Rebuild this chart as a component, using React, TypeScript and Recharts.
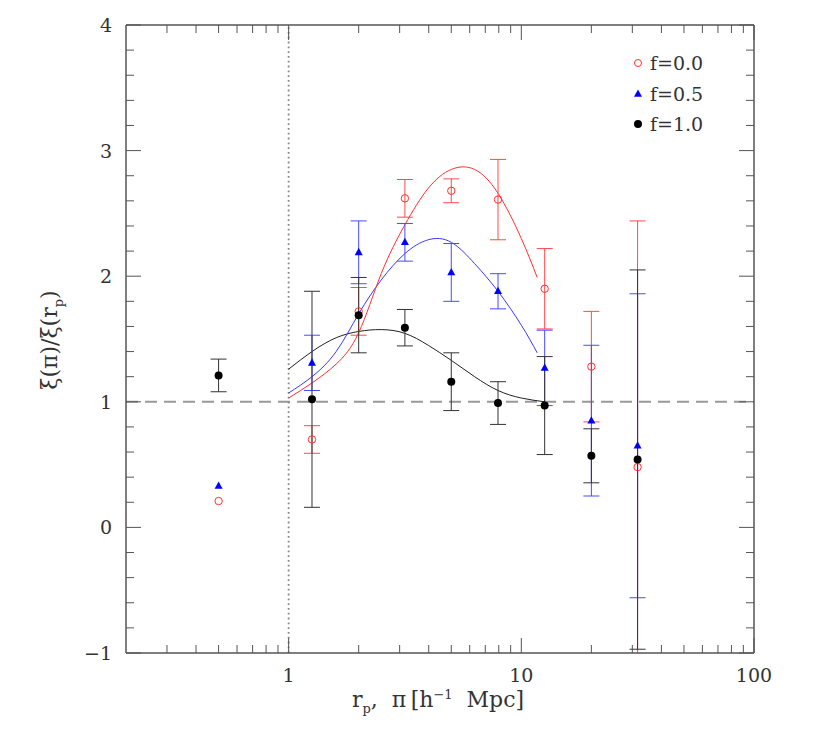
import React from 'react'
import { ComposedChart, Line, Scatter, ErrorBar, XAxis, YAxis, ReferenceLine } from 'recharts'

// bin centres (h^-1 Mpc), same for all three samples
const R_BINS = [0.5, 1.26, 2.0, 3.16, 5.0, 7.94, 12.6, 20.0, 31.6]

// f = 0.0  (open red circles)
const F00_Y = [0.21, 0.70, 1.72, 2.62, 2.68, 2.61, 1.90, 1.28, 0.48]
const F00_ERR = [null, 0.11, 0.19, 0.15, 0.095, 0.32, 0.32, 0.44, 1.96]

// f = 0.5  (blue triangles)
const F05_Y = [0.33, 1.31, 2.19, 2.27, 2.03, 1.88, 1.27, 0.85, 0.65]
const F05_ERR = [null, 0.22, 0.25, 0.15, 0.23, 0.14, 0.30, 0.60, 1.21]

// f = 1.0  (black dots)
const F10_Y = [1.21, 1.02, 1.69, 1.59, 1.16, 0.99, 0.97, 0.57, 0.54]
const F10_ERR = [0.13, 0.86, 0.30, 0.145, 0.23, 0.17, 0.39, 0.215, 1.51]

// model curves
const MODEL_X = [1.0, 1.26, 1.6, 2.0, 2.5, 3.16, 3.98, 5.0, 6.3, 7.94, 10.0, 11.7]
const MODEL_F00 = [1.03, 1.15, 1.30, 1.55, 2.02, 2.41, 2.70, 2.85, 2.85, 2.66, 2.30, 1.99]
const MODEL_F05 = [1.07, 1.20, 1.40, 1.70, 1.97, 2.18, 2.29, 2.27, 2.10, 1.88, 1.61, 1.39]
const MODEL_F10_X = [1.0, 1.26, 1.6, 2.0, 2.5, 3.16, 3.98, 5.0, 6.3, 7.94, 10.0, 12.6]
const MODEL_F10 = [1.26, 1.40, 1.51, 1.56, 1.575, 1.545, 1.45, 1.33, 1.20, 1.09, 1.03, 1.0]

// axis ticks
const X_MAJOR = [1, 10, 100]
const X_MINOR = [0.3, 0.4, 0.5, 0.6, 0.7, 0.8, 0.9, 2, 3, 4, 5, 6, 7, 8, 9, 20, 30, 40, 50, 60, 70, 80, 90]
const Y_MAJOR = [-1, 0, 1, 2, 3, 4]
const Y_MINOR = [-0.8, -0.6, -0.4, -0.2, 0.2, 0.4, 0.6, 0.8, 1.2, 1.4, 1.6, 1.8, 2.2, 2.4, 2.6, 2.8, 3.2, 3.4, 3.6, 3.8]

const RED = '#ff3030'
const BLUE = '#0000ff'
const AXIS = '#555'
const FONT = 'DejaVu Serif'

// plot frame inside the chart svg
const W = 800
const H = 715
const M = { top: 17, right: 54, bottom: 70, left: 118 }

const toPoints = (xs: number[], ys: number[], es?: (number | null)[]) =>
  xs.map((x, i) => ({ x, y: ys[i], e: es ? es[i] : null }))

const f00 = toPoints(R_BINS, F00_Y, F00_ERR)
const f05 = toPoints(R_BINS, F05_Y, F05_ERR)
const f10 = toPoints(R_BINS, F10_Y, F10_ERR)
const m00 = toPoints(MODEL_X, MODEL_F00)
const m05 = toPoints(MODEL_X, MODEL_F05)
const m10 = toPoints(MODEL_F10_X, MODEL_F10)

const fmt = (v: number) => (v < 0 ? `\u2212${Math.abs(v)}` : `${v}`)

// inward tick marks, labels only on the bottom/left majors
const AxisTick = (props: any) => {
  const { x, y, payload, side } = props
  const v = payload.value
  const major = side === 'bottom' || side === 'top' ? X_MAJOR.includes(v) : Y_MAJOR.includes(v)
  const len = major ? 15 : 8
  let line = null
  let label = null
  if (side === 'bottom') {
    line = <line x1={x} y1={y} x2={x} y2={y - len} />
    if (major) label = <text x={x} y={y + 29} textAnchor="middle">{fmt(v)}</text>
  } else if (side === 'top') {
    line = <line x1={x} y1={y} x2={x} y2={y + len} />
  } else if (side === 'left') {
    line = <line x1={x} y1={y} x2={x + len} y2={y} />
    if (major) label = <text x={x - 14} y={y + 7} textAnchor="end">{fmt(v)}</text>
  } else {
    line = <line x1={x} y1={y} x2={x - len} y2={y} />
  }
  return (
    <g>
      <g stroke={AXIS} strokeWidth={1}>{line}</g>
      {label && <g fill="#333" fontFamily={FONT} fontSize={19}>{label}</g>}
    </g>
  )
}

const OpenCircle = (p: any) => <circle cx={p.cx} cy={p.cy} r={3.7} fill="none" stroke={RED} strokeWidth={1} />
const Triangle = (p: any) => (
  <polygon points={`${p.cx},${p.cy - 4.5} ${p.cx - 4},${p.cy + 2.8} ${p.cx + 4},${p.cy + 2.8}`} fill={BLUE} />
)
const Dot = (p: any) => <circle cx={p.cx} cy={p.cy} r={4} fill="#000" />

const LEGEND = [
  { label: 'f=0.0', icon: <circle cx={6} cy={6} r={3.5} fill="none" stroke={RED} strokeWidth={1} /> },
  { label: 'f=0.5', icon: <polygon points="6,1.5 2,8.8 10,8.8" fill={BLUE} /> },
  { label: 'f=1.0', icon: <circle cx={6} cy={6} r={4} fill="#000" /> },
]

export default function App() {
  const xCommon = {
    dataKey: 'x',
    type: 'number' as const,
    scale: 'log' as const,
    domain: [0.2, 100],
    allowDataOverflow: true,
    ticks: [...X_MAJOR, ...X_MINOR],
    interval: 0,
    tickLine: false,
    tickSize: 0,
    tickMargin: 0,
    height: 1,
    axisLine: { stroke: AXIS, strokeWidth: 1.5 },
  }
  const yCommon = {
    dataKey: 'y',
    type: 'number' as const,
    domain: [-1, 4],
    allowDataOverflow: true,
    ticks: [...Y_MAJOR, ...Y_MINOR],
    interval: 0,
    tickLine: false,
    tickSize: 0,
    tickMargin: 0,
    width: 1,
    axisLine: { stroke: AXIS, strokeWidth: 1.5 },
  }

  return (
    <div style={{ position: 'relative', width: W, height: H, fontFamily: FONT, color: '#333' }}>
      {/* error bars are not clipped by recharts, so clip them to the frame */}
      <svg width={0} height={0} style={{ position: 'absolute' }}>
        <defs>
          <clipPath id="plotFrame" clipPathUnits="userSpaceOnUse">
            <rect x={M.left} y={M.top} width={W - M.left - M.right} height={H - M.top - M.bottom} />
          </clipPath>
        </defs>
      </svg>
      <style>{'.recharts-errorBars, .recharts-errorBar { clip-path: url(#plotFrame); }'}</style>

      <ComposedChart width={W} height={H} margin={{ top: M.top - 1, right: M.right - 1, bottom: M.bottom - 1, left: M.left - 1 }}>
        <XAxis xAxisId="b" orientation="bottom" {...xCommon} tick={(p: any) => <AxisTick {...p} side="bottom" />} />
        <XAxis xAxisId="t" orientation="top" {...xCommon} tick={(p: any) => <AxisTick {...p} side="top" />} />
        <YAxis yAxisId="l" orientation="left" {...yCommon} tick={(p: any) => <AxisTick {...p} side="left" />} />
        <YAxis yAxisId="r" orientation="right" {...yCommon} tick={(p: any) => <AxisTick {...p} side="right" />} />

        <ReferenceLine xAxisId="b" yAxisId="l" y={1} stroke="#999" strokeWidth={2} strokeDasharray="12 7" />
        <ReferenceLine xAxisId="b" yAxisId="l" x={1} stroke="#8a8a8a" strokeWidth={1.8} strokeDasharray="1.8 3" />

        <Line xAxisId="b" yAxisId="l" data={m10} dataKey="y" type="natural" stroke="#222" strokeWidth={1} dot={false} activeDot={false} isAnimationActive={false} legendType="none" />
        <Line xAxisId="b" yAxisId="l" data={m05} dataKey="y" type="natural" stroke="#3a3aff" strokeWidth={1} dot={false} activeDot={false} isAnimationActive={false} legendType="none" />
        <Line xAxisId="b" yAxisId="l" data={m00} dataKey="y" type="natural" stroke={RED} strokeWidth={1} dot={false} activeDot={false} isAnimationActive={false} legendType="none" />

        <Scatter xAxisId="b" yAxisId="l" data={f00} dataKey="y" shape={OpenCircle} isAnimationActive={false}>
          <ErrorBar dataKey="e" direction="y" width={8} stroke="#ff4a4a" strokeWidth={1} />
        </Scatter>
        <Scatter xAxisId="b" yAxisId="l" data={f05} dataKey="y" shape={Triangle} isAnimationActive={false}>
          <ErrorBar dataKey="e" direction="y" width={8} stroke="#4a4aff" strokeWidth={1} />
        </Scatter>
        <Scatter xAxisId="b" yAxisId="l" data={f10} dataKey="y" shape={Dot} isAnimationActive={false}>
          <ErrorBar dataKey="e" direction="y" width={8} stroke="#333" strokeWidth={1} />
        </Scatter>
      </ComposedChart>

      {/* legend */}
      <div style={{ position: 'absolute', left: 624, top: 40, fontSize: 19, lineHeight: '30.5px' }}>
        {LEGEND.map(item => (
          <div key={item.label} style={{ display: 'flex', alignItems: 'center', height: 30.5 }}>
            <svg width={12} height={12} style={{ marginRight: 6 }}>{item.icon}</svg>
            <span>{item.label}</span>
          </div>
        ))}
      </div>

      {/* axis titles */}
      <div style={{ position: 'absolute', left: 430, top: 680, transform: 'translateX(-50%)', fontSize: 22, lineHeight: 1, whiteSpace: 'nowrap' }}>
        r<sub style={{ fontSize: 13 }}>p</sub>, &nbsp;π&thinsp;[h<sup style={{ fontSize: 13 }}>−1</sup>&nbsp; Mpc]
      </div>
      <div style={{ position: 'absolute', left: 44, top: 332, transform: 'translate(-50%, -50%) rotate(-90deg)', fontSize: 22, lineHeight: 1, whiteSpace: 'nowrap' }}>
        ξ(π)/ξ(r<sub style={{ fontSize: 13 }}>p</sub>)
      </div>
    </div>
  )
}
